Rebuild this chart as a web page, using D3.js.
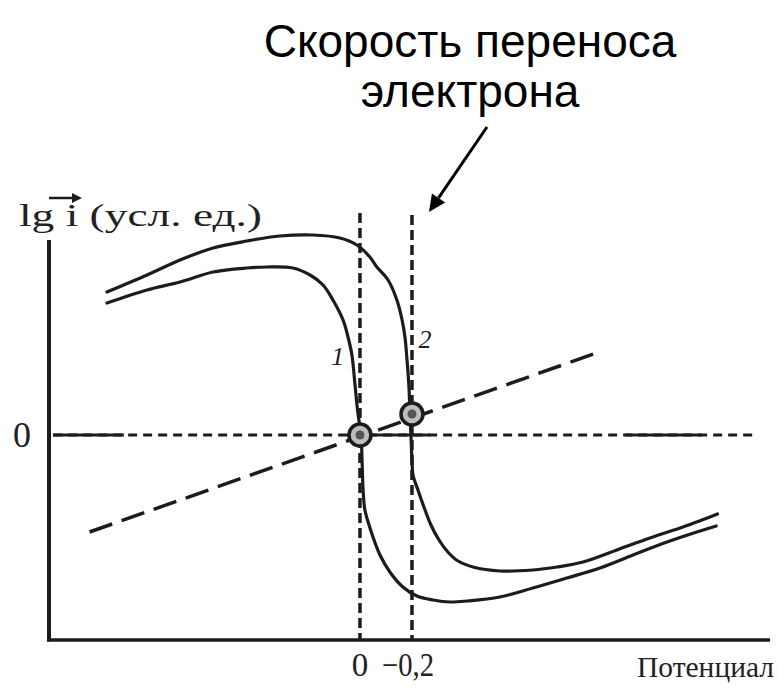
<!DOCTYPE html>
<html>
<head>
<meta charset="utf-8">
<script src="https://cdn.jsdelivr.net/npm/d3@7"></script>
<style>
  html, body { margin: 0; padding: 0; background: #fff; }
  svg { display: block; }
  .serif { font-family: "Liberation Serif", "DejaVu Serif", serif; fill: #222; }
  .sans { font-family: "Liberation Sans", Arial, sans-serif; fill: #000; }
</style>
</head>
<body>
<svg id="chart" width="779" height="690"></svg>
<script>
// Potential (V) along x, decreasing to the right; lg i (arb. units) along y.
const potentialTicks = [0, -0.2];
const potentialTickLabels = ["0", "\u22120,2"];
const zeroLabel = "0";

// Polarization curve 1 (crosses zero current at 0 V)
const curve1Pot = [0.973, 0.819, 0.692, 0.565, 0.435, 0.358, 0.258, 0.192, 0.142, 0.104,
  0.065, 0.046, 0.031, 0.019, 0.008, -0.004, -0.008, -0.012, -0.019, -0.035, -0.050,
  -0.077, -0.115, -0.165, -0.219, -0.281, -0.346, -0.412, -0.538, -0.665, -0.796,
  -0.923, -1.050, -1.181, -1.308, -1.370];
const curve1Lg = [1.32, 1.45, 1.53, 1.63, 1.67, 1.68, 1.67, 1.60, 1.50, 1.35,
  1.15, 0.98, 0.80, 0.50, 0.22, 0.00, -0.25, -0.55, -0.75, -0.90, -1.02,
  -1.20, -1.37, -1.52, -1.61, -1.65, -1.67, -1.66, -1.62, -1.53, -1.43,
  -1.33, -1.20, -1.07, -0.96, -0.91];

// Polarization curve 2 (crosses zero current at -0.2 V)
const curve2Pot = [0.973, 0.819, 0.692, 0.565, 0.435, 0.308, 0.181, 0.077, 0.012, -0.038,
  -0.065, -0.108, -0.142, -0.162, -0.173, -0.181, -0.188, -0.192, -0.196, -0.200,
  -0.204, -0.223, -0.246, -0.273, -0.304, -0.338, -0.377, -0.435, -0.538, -0.665,
  -0.758, -0.858, -0.988, -1.115, -1.242, -1.315, -1.375];
const curve2Lg = [1.43, 1.60, 1.75, 1.87, 1.94, 1.99, 2.00, 1.97, 1.90, 1.78,
  1.68, 1.55, 1.35, 1.15, 0.98, 0.75, 0.50, 0.25, 0.00, -0.25,
  -0.40, -0.55, -0.72, -0.90, -1.05, -1.17, -1.26, -1.32, -1.36, -1.35,
  -1.32, -1.27, -1.15, -1.03, -0.92, -0.85, -0.79];

// Electron-transfer rate line (dashed) and its equilibrium points
const ratePot = [1.04, -0.92];
const rateLg = [-0.97, 0.83];
const eqPot = [0, -0.2];
const eqLg = [0, 0.21];

const titleLines = ["Скорость переноса", "электрона"];
const yAxisTitle = "lg i (усл. ед.)";
const xAxisTitle = "Потенциал";

const svg = d3.select("#chart");
const ink = "#1c1c1c";

const x = d3.scaleLinear().domain([1.196, -1.577]).range([49, 770]);
const y = d3.scaleLinear().domain([-2.05, 2.0]).range([640, 235]);

// Axes as bare lines (no ticks), like a hand-drawn diagram
svg.append("line").attr("x1", x(1.196)).attr("x2", x(1.196))
  .attr("y1", y(1.95)).attr("y2", y(-2.05) + 1.5)
  .attr("stroke", ink).attr("stroke-width", 4);
svg.append("line").attr("x1", x(1.196) - 2).attr("x2", x(-1.577))
  .attr("y1", y(-2.05)).attr("y2", y(-2.05))
  .attr("stroke", ink).attr("stroke-width", 3.5);

// Zero-current line: dashed with a few solid runs
svg.append("line").attr("x1", x(1.18)).attr("x2", x(-1.52))
  .attr("y1", y(0)).attr("y2", y(0))
  .attr("stroke", ink).attr("stroke-width", 3).attr("stroke-dasharray", "9,6");
const zeroSolidRuns = [[1.18, 0.908], [0.05, -0.27], [-1.02, -1.315]];
svg.selectAll("line.zsolid").data(zeroSolidRuns).enter().append("line")
  .attr("class", "zsolid")
  .attr("x1", d => x(d[0])).attr("x2", d => x(d[1]))
  .attr("y1", y(0)).attr("y2", y(0))
  .attr("stroke", ink).attr("stroke-width", 3);

// Vertical dashed lines at the equilibrium potentials
const dashTops = [2.22, 2.20];
svg.selectAll("line.vdash").data(potentialTicks).enter().append("line")
  .attr("class", "vdash")
  .attr("x1", d => x(d)).attr("x2", d => x(d))
  .attr("y1", (d, i) => y(dashTops[i])).attr("y2", y(-2.05))
  .attr("stroke", ink).attr("stroke-width", 3.5).attr("stroke-dasharray", "10,5");

// Dashed rate line
svg.append("line")
  .attr("x1", x(ratePot[0])).attr("y1", y(rateLg[0]))
  .attr("x2", x(ratePot[1])).attr("y2", y(rateLg[1]))
  .attr("stroke", ink).attr("stroke-width", 3.5).attr("stroke-dasharray", "24,10");

// Polarization curves
const line = d3.line().x(d => x(d[0])).y(d => y(d[1])).curve(d3.curveCatmullRom.alpha(0.5));
const c1 = curve1Pot.map((p, i) => [p, curve1Lg[i]]);
const c2 = curve2Pot.map((p, i) => [p, curve2Lg[i]]);
[c1, c2].forEach(c => {
  svg.append("path").attr("d", line(c))
    .attr("fill", "none").attr("stroke", ink).attr("stroke-width", 3.2)
    .attr("stroke-linejoin", "round").attr("stroke-linecap", "round");
});

// Equilibrium points
eqPot.forEach((p, i) => {
  svg.append("circle").attr("cx", x(p)).attr("cy", y(eqLg[i])).attr("r", 11)
    .attr("fill", "#bdbdbd").attr("stroke", ink).attr("stroke-width", 3.5);
  svg.append("circle").attr("cx", x(p)).attr("cy", y(eqLg[i])).attr("r", 4.5)
    .attr("fill", "#555");
});

// Curve numbers
svg.append("text").attr("class", "serif").attr("x", x(0.11)).attr("y", y(0.7))
  .attr("font-size", 26).attr("font-style", "italic").text("1");
svg.append("text").attr("class", "serif").attr("x", x(-0.225)).attr("y", y(0.87))
  .attr("font-size", 26).attr("font-style", "italic").text("2");

// Tick labels on the potential axis
svg.append("text").attr("class", "serif").attr("x", x(potentialTicks[0])).attr("y", 676)
  .attr("text-anchor", "middle").attr("font-size", 33).text(potentialTickLabels[0]);
svg.append("text").attr("class", "serif").attr("x", 382).attr("y", 676)
  .attr("font-size", 33).attr("textLength", 52).attr("lengthAdjust", "spacingAndGlyphs")
  .text(potentialTickLabels[1]);

// Zero label on the lg i axis
svg.append("text").attr("class", "serif").attr("x", 22).attr("y", y(0) + 12)
  .attr("text-anchor", "middle").attr("font-size", 36).text(zeroLabel);

// Axis titles
svg.append("text").attr("class", "serif").attr("x", 637).attr("y", 677)
  .attr("font-size", 30).attr("textLength", 137).attr("lengthAdjust", "spacingAndGlyphs")
  .text(xAxisTitle);
svg.append("text").attr("class", "serif").attr("x", 19).attr("y", 226)
  .attr("font-size", 31).attr("textLength", 243).attr("lengthAdjust", "spacingAndGlyphs")
  .text(yAxisTitle);
// vector arrow over "i"
svg.append("line").attr("x1", 49).attr("x2", 76).attr("y1", 198).attr("y2", 198)
  .attr("stroke", ink).attr("stroke-width", 2.5);
svg.append("path").attr("d", "M82,198 L72,193 L72,203 Z").attr("fill", ink);

// Title with pointer to the -0.2 V line
svg.selectAll("text.title").data(titleLines).enter().append("text")
  .attr("class", "sans").attr("x", 470).attr("y", (d, i) => 57 + i * 50)
  .attr("text-anchor", "middle").attr("font-size", 46).text(d => d);

const tipX = x(-0.2) + 17, tipY = y(2.23);
const startX = 487, startY = 127;
const ang = Math.atan2(tipY - startY, tipX - startX);
const hl = 17, hw = 8;
const bx = tipX - hl * Math.cos(ang), by = tipY - hl * Math.sin(ang);
svg.append("line").attr("x1", startX).attr("y1", startY).attr("x2", bx).attr("y2", by)
  .attr("stroke", "#000").attr("stroke-width", 3);
svg.append("path").attr("d",
  `M${tipX},${tipY} L${bx + hw * Math.sin(ang)},${by - hw * Math.cos(ang)} L${bx - hw * Math.sin(ang)},${by + hw * Math.cos(ang)} Z`)
  .attr("fill", "#000");
</script>
</body>
</html>
